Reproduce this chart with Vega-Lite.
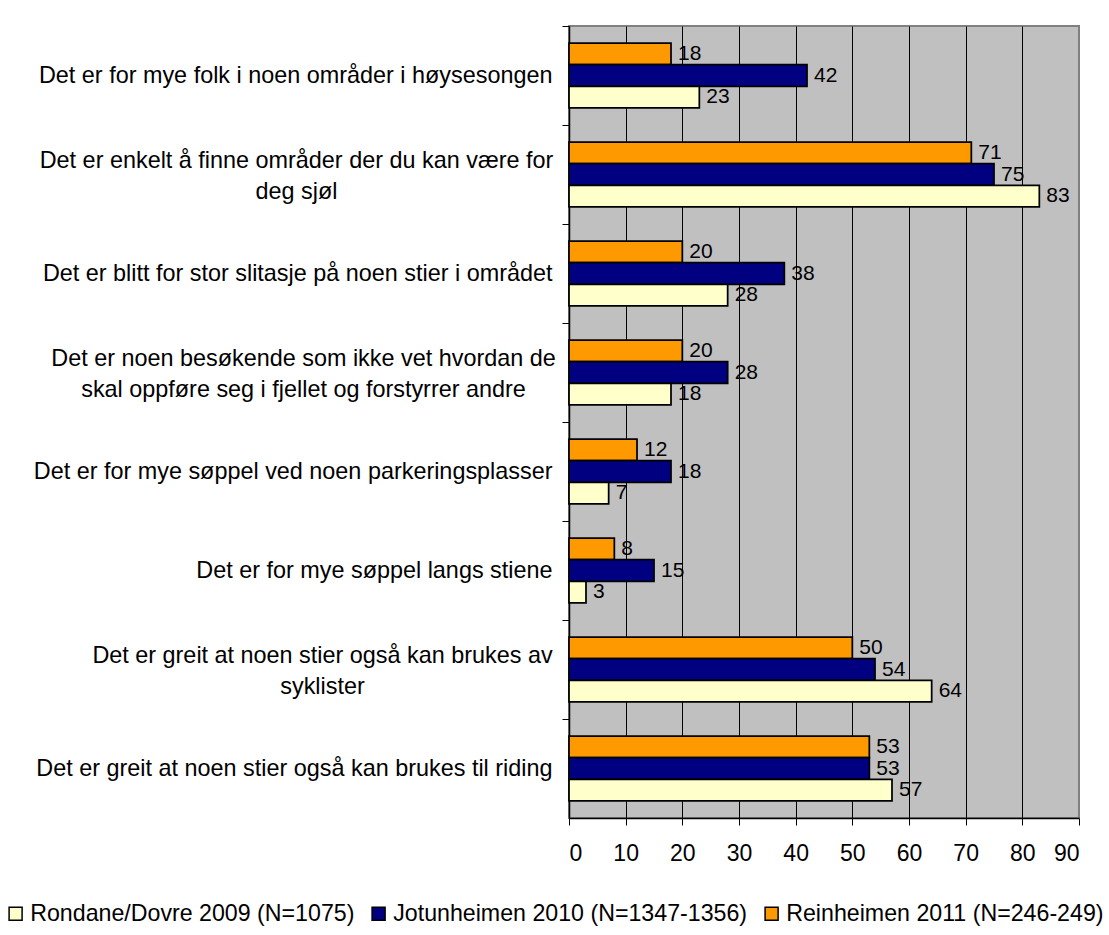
{
  "$schema": "https://vega.github.io/schema/vega-lite/v6.json",
  "width": 510,
  "height": 792,
  "autosize": "none",
  "padding": {"left": 569, "top": 26, "right": 30, "bottom": 117},
  "background": "white",
  "config": {
    "font": "Liberation Sans",
    "view": {"fill": "#C0C0C0", "stroke": "#808080", "strokeWidth": 2}
  },
  "data": {
    "values": [
      {"item": "Det er for mye folk i noen områder i høysesongen", "series": "Reinheimen 2011 (N=246-249)", "value": 18},
      {"item": "Det er for mye folk i noen områder i høysesongen", "series": "Jotunheimen 2010 (N=1347-1356)", "value": 42},
      {"item": "Det er for mye folk i noen områder i høysesongen", "series": "Rondane/Dovre 2009 (N=1075)", "value": 23},
      {"item": "Det er enkelt å finne områder der du kan være for|deg sjøl", "series": "Reinheimen 2011 (N=246-249)", "value": 71},
      {"item": "Det er enkelt å finne områder der du kan være for|deg sjøl", "series": "Jotunheimen 2010 (N=1347-1356)", "value": 75},
      {"item": "Det er enkelt å finne områder der du kan være for|deg sjøl", "series": "Rondane/Dovre 2009 (N=1075)", "value": 83},
      {"item": "Det er blitt for stor slitasje på noen stier i området", "series": "Reinheimen 2011 (N=246-249)", "value": 20},
      {"item": "Det er blitt for stor slitasje på noen stier i området", "series": "Jotunheimen 2010 (N=1347-1356)", "value": 38},
      {"item": "Det er blitt for stor slitasje på noen stier i området", "series": "Rondane/Dovre 2009 (N=1075)", "value": 28},
      {"item": "Det er noen besøkende som ikke vet hvordan de|skal oppføre seg i fjellet og forstyrrer andre", "series": "Reinheimen 2011 (N=246-249)", "value": 20},
      {"item": "Det er noen besøkende som ikke vet hvordan de|skal oppføre seg i fjellet og forstyrrer andre", "series": "Jotunheimen 2010 (N=1347-1356)", "value": 28},
      {"item": "Det er noen besøkende som ikke vet hvordan de|skal oppføre seg i fjellet og forstyrrer andre", "series": "Rondane/Dovre 2009 (N=1075)", "value": 18},
      {"item": "Det er for mye søppel ved noen parkeringsplasser", "series": "Reinheimen 2011 (N=246-249)", "value": 12},
      {"item": "Det er for mye søppel ved noen parkeringsplasser", "series": "Jotunheimen 2010 (N=1347-1356)", "value": 18},
      {"item": "Det er for mye søppel ved noen parkeringsplasser", "series": "Rondane/Dovre 2009 (N=1075)", "value": 7},
      {"item": "Det er for mye søppel langs stiene", "series": "Reinheimen 2011 (N=246-249)", "value": 8},
      {"item": "Det er for mye søppel langs stiene", "series": "Jotunheimen 2010 (N=1347-1356)", "value": 15},
      {"item": "Det er for mye søppel langs stiene", "series": "Rondane/Dovre 2009 (N=1075)", "value": 3},
      {"item": "Det er greit at noen stier også kan brukes av|syklister", "series": "Reinheimen 2011 (N=246-249)", "value": 50},
      {"item": "Det er greit at noen stier også kan brukes av|syklister", "series": "Jotunheimen 2010 (N=1347-1356)", "value": 54},
      {"item": "Det er greit at noen stier også kan brukes av|syklister", "series": "Rondane/Dovre 2009 (N=1075)", "value": 64},
      {"item": "Det er greit at noen stier også kan brukes til riding", "series": "Reinheimen 2011 (N=246-249)", "value": 53},
      {"item": "Det er greit at noen stier også kan brukes til riding", "series": "Jotunheimen 2010 (N=1347-1356)", "value": 53},
      {"item": "Det er greit at noen stier også kan brukes til riding", "series": "Rondane/Dovre 2009 (N=1075)", "value": 57}
    ]
  },
  "encoding": {
    "y": {
      "field": "item",
      "type": "nominal",
      "sort": null,
      "scale": {"paddingInner": 0, "paddingOuter": 0},
      "axis": {
        "title": null,
        "bandPosition": 0,
        "tickSize": 7,
        "tickColor": "black",
        "domainColor": "black",
        "domainWidth": 1.5,
        "labelFontSize": 23.4,
        "labelColor": "black",
        "labelAlign": {"expr": "indexof(datum.value, '|') >= 0 ? 'center' : 'right'"},
        "labelPadding": {"expr": "indexof(datum.value, 'enkelt') >= 0 ? 266 : indexof(datum.value, 'besøkende') >= 0 ? 259 : indexof(datum.value, 'syklister') >= 0 ? 240 : 10"},
        "labelOffset": {"expr": "indexof(datum.value, '|') >= 0 ? -14 : 0"},
        "labelLimit": 0,
        "labelOverlap": false,
        "labelExpr": "split(datum.value, '|')",
        "labelLineHeight": 31.5,
        "grid": false
      }
    },
    "yOffset": {
      "field": "series",
      "sort": null,
      "scale": {"paddingOuter": 0.8, "paddingInner": 0}
    },
    "x": {
      "field": "value",
      "type": "quantitative",
      "scale": {"domain": [0, 90], "nice": false},
      "axis": {
        "title": null,
        "values": [0, 10, 20, 30, 40, 50, 60, 70, 80, 90],
        "grid": true,
        "gridColor": {"condition": {"test": "datum.value == 90", "value": "#808080"}, "value": "black"},
        "gridOpacity": 1,
        "gridWidth": 1,
        "tickColor": "black",
        "tickSize": 7,
        "domainColor": "black",
        "domainWidth": 1.5,
        "labelFontSize": 23,
        "labelColor": "black",
        "labelPadding": 17
      }
    }
  },
  "layer": [
    {
      "mark": {"type": "bar", "stroke": "black", "strokeWidth": 1.75},
      "encoding": {
        "color": {
          "field": "series",
          "type": "nominal",
          "scale": {
            "domain": ["Rondane/Dovre 2009 (N=1075)", "Jotunheimen 2010 (N=1347-1356)", "Reinheimen 2011 (N=246-249)"],
            "range": ["#FFFFCC", "#000080", "#FF9900"]
          },
          "legend": {
            "title": null,
            "orient": "none",
            "direction": "horizontal",
            "legendX": -565,
            "legendY": 876,
            "symbolType": "square",
            "symbolSize": 169,
            "symbolStrokeColor": "black",
            "symbolStrokeWidth": 1.5,
            "labelFontSize": 23.2,
            "labelColor": "black",
            "columnPadding": 12,
            "labelOffset": 3,
            "padding": 0,
            "labelLimit": 0
          }
        }
      }
    },
    {
      "mark": {"type": "text", "align": "left", "baseline": "middle", "dx": 7, "fontSize": 21, "color": "black"},
      "encoding": {"text": {"field": "value", "type": "quantitative"}}
    }
  ]
}
